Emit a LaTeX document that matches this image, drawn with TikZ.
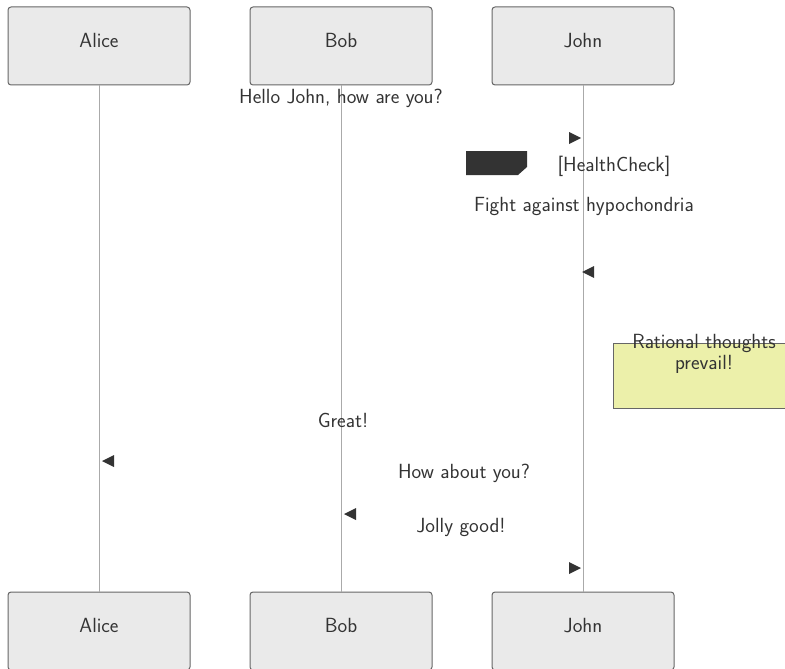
\documentclass[tikz,border=0pt]{standalone}
\usepackage{tikz}
\usetikzlibrary{positioning,calc}
\definecolor{actorfill}{RGB}{234,234,234}
\definecolor{actordraw}{RGB}{102,102,102}
\definecolor{lifegray}{RGB}{170,170,170}
\definecolor{inkgray}{RGB}{51,51,51}
\definecolor{notefill}{RGB}{236,240,170}
\newcommand{\tipright}[2]{\fill[inkgray] (#1,#2) -- ++(-12,-6) -- ++(0,12) -- cycle;}
\newcommand{\tipleft}[2]{\fill[inkgray] (#1,#2) -- ++(12,-6) -- ++(0,12) -- cycle;}

\begin{document}
\begin{tikzpicture}[
  x=1pt,y=-1pt,
  font=\sffamily\fontsize{20.5}{24}\selectfont,
  text=inkgray,
  node distance=507pt and 60pt,
  actor/.style={rectangle,rounded corners=3pt,draw=actordraw,fill=actorfill,line width=1pt,outer sep=0pt,minimum width=182pt,minimum height=78pt,inner sep=0pt,text height=15pt,text depth=12pt},
  life/.style={draw=lifegray,line width=1pt},
  msg/.style={inner sep=0pt,align=center},
  notebox/.style={rectangle,draw=actordraw,fill=notefill,line width=1pt,minimum width=182pt,minimum height=65pt}
]
  \useasboundingbox (0,0) rectangle (785,669);
  \clip (0,0) rectangle (785,669);

  % actors, top and bottom
  \node[actor] (alice) at (99,46) {Alice};
  \node[actor,right=of alice] (bob) {Bob};
  \node[actor,right=of bob] (john) {John};
  \node[actor,below=of alice] (alicebot) {Alice};
  \node[actor,below=of bob] (bobbot) {Bob};
  \node[actor,below=of john] (johnbot) {John};

  % lifelines
  \draw[life] (alice) -- (alicebot);
  \draw[life] (bob) -- (bobbot);
  \draw[life] (john) -- (johnbot);

  % messages
  \node[msg] (hello) at (341,98) {Hello John, how are you?};
  \tipright{581}{138}
  \fill[inkgray] (466,151) -- (527,151) -- (527,167) -- (518,175) -- (466,175) -- cycle;
  \node[msg] (loop) at (614,166) {[HealthCheck]};
  \node[msg] (fight) at (584,206) {Fight against hypochondria};
  \tipleft{582}{272}

  % note
  \node[notebox] (note) at (704,375.5) {};
  \node[msg,font=\sffamily\fontsize{20.5}{21}\selectfont] (notetext) at (704,354) {Rational thoughts\\prevail!};

  \node[msg] (great) at (343,420) {Great!};
  \tipleft{102}{461}
  \node[msg] (howabout) at (464,473) {How about you?};
  \tipleft{344}{514}
  \node[msg] (jolly) at (461,527) {Jolly good!};
  \tipright{581}{568}
\end{tikzpicture}
\end{document}
